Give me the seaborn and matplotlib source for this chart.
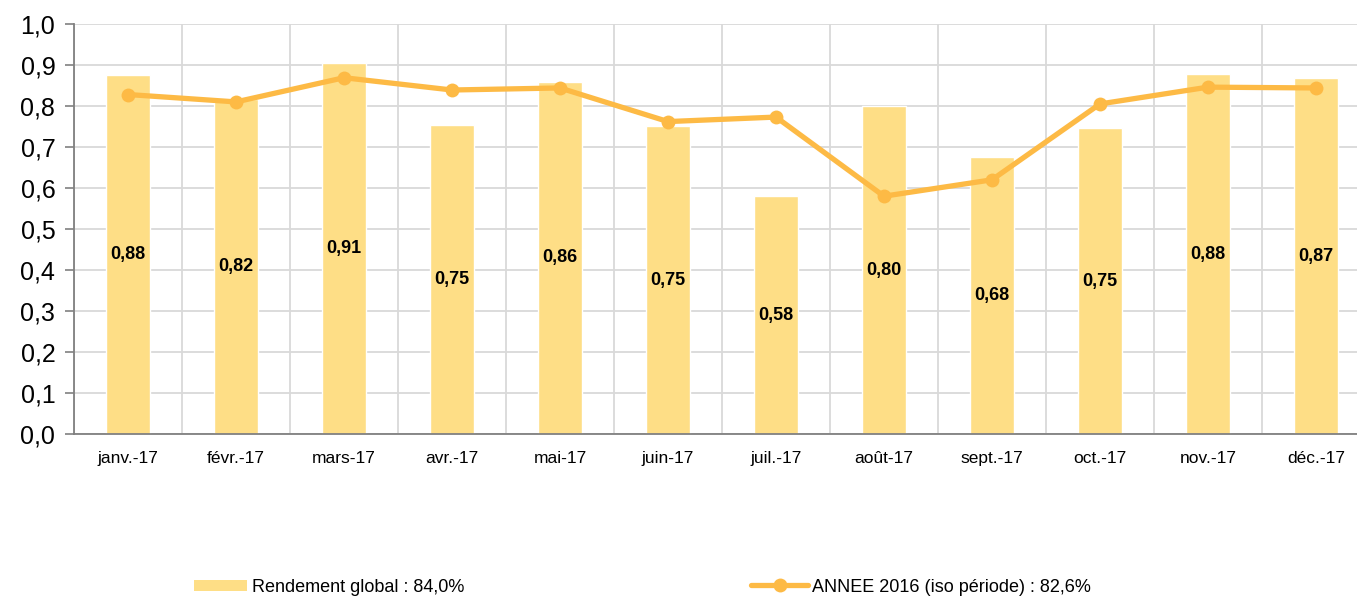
import matplotlib
matplotlib.use("Agg")
import matplotlib.pyplot as plt
import seaborn as sns
import pandas as pd
from matplotlib.patches import Patch
from matplotlib.lines import Line2D
from matplotlib.ticker import MultipleLocator, FixedLocator, FuncFormatter

months = ["janv.-17", "févr.-17", "mars-17", "avr.-17", "mai-17", "juin-17",
          "juil.-17", "août-17", "sept.-17", "oct.-17", "nov.-17", "déc.-17"]
rendement = [0.876, 0.818, 0.906, 0.754, 0.859, 0.751, 0.580, 0.800, 0.676, 0.746, 0.878, 0.868]
annee_2016 = [0.828, 0.810, 0.869, 0.839, 0.844, 0.762, 0.773, 0.580, 0.620, 0.805, 0.846, 0.844]
bar_label = "Rendement global : 84,0%"
line_label = "ANNEE 2016 (iso période) : 82,6%"

BAR_C = "#FEDE86"
LINE_C = "#FDBA45"

sns.set_style("white")
plt.rcParams["font.family"] = ["Liberation Sans", "DejaVu Sans"]
plt.rcParams["text.color"] = "black"
plt.rcParams["xtick.labelcolor"] = "black"
plt.rcParams["ytick.labelcolor"] = "black"

df = pd.DataFrame({"mois": months, "rendement": rendement, "annee": annee_2016})

fig = plt.figure(figsize=(13.57, 5.99), dpi=100)
ax = fig.add_axes([74 / 1357, 165 / 599, 1283 / 1357, 410 / 599])

sns.barplot(data=df, x="mois", y="rendement", color=BAR_C, width=0.4,
            saturation=1, ax=ax, zorder=2)
sns.lineplot(data=df, x="mois", y="annee", color=LINE_C, marker="o",
             markersize=10, markeredgewidth=0, linewidth=3.8, ax=ax, zorder=3, sort=False)

for i, v in enumerate(rendement):
    ax.text(i, v / 2, f"{v:.2f}".replace(".", ","), ha="center", va="center",
            fontsize=13, fontweight="bold", color="black", zorder=4)

ax.set_ylim(0, 1.0)
ax.set_xlim(-0.5, 11.38)
ax.yaxis.set_major_locator(MultipleLocator(0.1))
ax.yaxis.set_major_formatter(FuncFormatter(lambda v, p: f"{v:.1f}".replace(".", ",")))
ax.set_xlabel("")
ax.set_ylabel("")

ax.xaxis.set_minor_locator(FixedLocator([i - 0.5 for i in range(13)]))
ax.grid(axis="y", which="major", color="#D9D9D9", linewidth=1.3, zorder=0)
ax.grid(axis="x", which="minor", color="#D9D9D9", linewidth=1.3, zorder=0)
ax.set_axisbelow(True)

ax.tick_params(axis="x", which="major", length=0, labelsize=12.5, pad=21, labelcolor="black")
ax.tick_params(axis="x", which="minor", length=5, width=1.2, color="#808080", direction="out")
ax.tick_params(axis="y", length=6.5, width=1.2, color="#808080", labelsize=18, pad=7,
               direction="out", labelcolor="black")
ax.tick_params(left=True, bottom=True)
for lab in ax.get_xticklabels():
    lab.set_verticalalignment("baseline")

for s in ["top", "right"]:
    ax.spines[s].set_visible(False)
for s in ["left", "bottom"]:
    ax.spines[s].set_color("#808080")
    ax.spines[s].set_linewidth(1.3)

h1 = Patch(facecolor=BAR_C, edgecolor="none")
h2 = Line2D([0], [0], color=LINE_C, linewidth=3.8, marker="o", markersize=10, markeredgewidth=0)
leg1 = fig.legend([h1], [bar_label], loc="center left", bbox_to_anchor=(178 / 1357, 1 - 587 / 599),
                  frameon=False, fontsize=13, handlelength=2.9, handleheight=0.55, handletextpad=0.28)
leg2 = fig.legend([h2], [line_label], loc="center left", bbox_to_anchor=(735 / 1357, 1 - 587 / 599),
                  frameon=False, fontsize=13, handlelength=3.15, handletextpad=0.2)
for leg in (leg1, leg2):
    for t in leg.get_texts():
        t.set_color("black")

fig.savefig("out.png", dpi=100)
